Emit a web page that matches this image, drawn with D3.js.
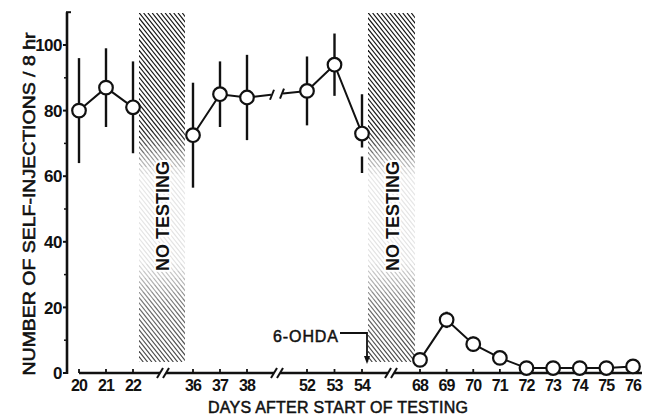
<!DOCTYPE html>
<html>
<head>
<meta charset="utf-8">
<script src="https://d3js.org/d3.v7.min.js"></script>
<style>
  body { margin: 0; background: #fff; }
  text { font-family: "Liberation Sans", Arial, sans-serif; fill: #111; }
</style>
</head>
<body>
<script>
// session days, mean self-injections / 8 hr, and error bar half-lengths
var days1 = [20, 21, 22],  means1 = [80, 87, 81],   errs1 = [16, 12, 14];
var days2 = [36, 37, 38],  means2 = [72.5, 85, 84], errs2 = [16, 10, 13];
var days3 = [52, 53, 54],  means3 = [86, 94, 73],   errs3 = [10.5, 9.5, 12];
var days4 = [68, 69, 70, 71, 72, 73, 74, 75, 76];
var means4 = [4, 16.2, 8.8, 4.6, 1.5, 1.5, 1.5, 1.5, 2];
var errs4 = [0, 2.5, 2.3, 0, 0, 0, 0, 0, 0];
var yTicks = [0, 20, 40, 60, 80, 100];
var yMinor = [10, 30, 50, 70, 90];

var width = 646, height = 417;

var svg = d3.select("body").append("svg")
    .attr("width", width)
    .attr("height", height);

// broken x axis: each block of days gets its own stretch
var x = d3.scaleLinear()
    .domain([20, 22, 36, 38, 52, 54, 68, 76])
    .range([79, 133, 193, 247, 307, 362, 420, 633]);
var y = d3.scaleLinear().domain([0, 100]).range([373, 45]);

var gap1 = (x(22) + x(36)) / 2,
    gap2 = (x(38) + x(52)) / 2,
    gap3 = (x(54) + x(68)) / 2;

// "no testing" periods: hatched bands that thin out towards the middle
var noTest = [[x(22) + 6, x(36) - 8], [x(54) + 6, x(68) - 5]];
var bandTop = Math.round(y(110) + 1), bandBot = Math.round(y(3.5));
var bandH = bandBot - bandTop;
// white veil over the hatching, strongest in the middle of the band
var veilAt = d3.scaleLinear()
    .domain([0, 0.34, 0.46, 0.72, 0.84, 1])
    .range([0, 0.05, 0.9, 0.88, 0.4, 0.2]);
var nVeil = 50;

noTest.forEach(function (d, i) {
  var slope = 1.25;
  svg.append("clipPath").attr("id", "clip" + i)
    .append("rect")
      .attr("x", d[0]).attr("y", bandTop)
      .attr("width", d[1] - d[0]).attr("height", bandH);
  var g = svg.append("g").attr("clip-path", "url(#clip" + i + ")");
  g.selectAll("line.h")
    .data(d3.range(d[0] - bandH / slope, d[1] + 2, 4.3))
    .enter().append("line")
      .attr("x1", function (s) { return s; })
      .attr("y1", bandTop)
      .attr("x2", function (s) { return s + bandH / slope; })
      .attr("y2", bandBot)
      .attr("stroke", "#111")
      .attr("stroke-width", 1.2);
  var veil = d3.range(nVeil).map(function (k) {
    var y0 = Math.round(bandTop + k * bandH / nVeil),
        y1 = Math.round(bandTop + (k + 1) * bandH / nVeil);
    return { y0: y0, y1: y1, o: veilAt((k + 0.5) / nVeil) };
  });
  g.selectAll("rect.v")
    .data(veil)
    .enter().append("rect")
      .attr("x", d[0] - 1)
      .attr("width", d[1] - d[0] + 2)
      .attr("y", function (v) { return v.y0; })
      .attr("height", function (v) { return v.y1 - v.y0; })
      .attr("fill", "#fff")
      .attr("fill-opacity", function (v) { return v.o; });
});

svg.selectAll("text.nt")
  .data(noTest)
  .enter().append("text")
    .attr("class", "nt")
    .attr("transform", function (d) { return "translate(" + ((d[0] + d[1]) / 2 + 7) + "," + 216 + ") rotate(-90)"; })
    .attr("text-anchor", "middle")
    .style("font-size", "18px")
    .style("font-weight", "bold")
    .style("paint-order", "stroke")
    .style("stroke", "#fff")
    .style("stroke-width", 4)
    .text("NO TESTING");

// y axis
svg.append("line")
    .attr("x1", 67).attr("x2", 67)
    .attr("y1", y(110)).attr("y2", y(0) + 1)
    .attr("stroke", "#111").attr("stroke-width", 2.6);
svg.append("line")
    .attr("x1", 66).attr("x2", 71)
    .attr("y1", y(110)).attr("y2", y(110))
    .attr("stroke", "#111").attr("stroke-width", 2);

svg.selectAll("line.ymaj")
  .data(yTicks).enter().append("line")
    .attr("x1", 63).attr("x2", 67)
    .attr("y1", function (d) { return y(d); })
    .attr("y2", function (d) { return y(d); })
    .attr("stroke", "#111").attr("stroke-width", 2);
svg.selectAll("line.ymin")
  .data(yMinor).enter().append("line")
    .attr("x1", 64).attr("x2", 67)
    .attr("y1", function (d) { return y(d); })
    .attr("y2", function (d) { return y(d); })
    .attr("stroke", "#111").attr("stroke-width", 1.5);
svg.selectAll("text.ylab")
  .data(yTicks).enter().append("text")
    .attr("x", 62)
    .attr("y", function (d) { return y(d); })
    .attr("dy", "0.36em")
    .attr("text-anchor", "end")
    .style("font-size", "17px")
    .style("font-weight", "bold")
    .style("letter-spacing", "-0.5px")
    .text(function (d) { return d; });

svg.append("text")
    .attr("transform", "translate(35,204) rotate(-90)")
    .attr("text-anchor", "middle")
    .attr("textLength", 343)
    .attr("lengthAdjust", "spacingAndGlyphs")
    .style("font-size", "17px")
    .style("stroke", "#111")
    .style("stroke-width", 0.6)
    .text("NUMBER OF SELF-INJECTIONS / 8 hr");

// x axis pieces with break marks
var axisY = y(0);
var axisPieces = [[x(20), gap1 - 3], [gap1 + 3, gap2 - 3], [gap2 + 3, gap3 - 3], [gap3 + 3, 642]];
svg.selectAll("line.xax")
  .data(axisPieces).enter().append("line")
    .attr("x1", function (d) { return d[0]; })
    .attr("x2", function (d) { return d[1]; })
    .attr("y1", axisY).attr("y2", axisY)
    .attr("stroke", "#111").attr("stroke-width", 2.6);

function breakMarks(cx, cy) {
  [-3, 3].forEach(function (o) {
    svg.append("line")
        .attr("x1", cx + o - 3).attr("y1", cy + 5)
        .attr("x2", cx + o + 3).attr("y2", cy - 5)
        .attr("stroke", "#111").attr("stroke-width", 2);
  });
}
[gap1, gap2, gap3].forEach(function (g) { breakMarks(g, axisY); });

var allDays = days1.concat(days2, days3, days4);
svg.selectAll("line.xt")
  .data(allDays).enter().append("line")
    .attr("x1", function (d) { return x(d); })
    .attr("x2", function (d) { return x(d); })
    .attr("y1", axisY).attr("y2", axisY - 4)
    .attr("stroke", "#111").attr("stroke-width", 1.8);
svg.selectAll("text.xlab")
  .data(allDays).enter().append("text")
    .attr("x", function (d) { return x(d); })
    .attr("y", 391)
    .attr("text-anchor", "middle")
    .style("font-size", "16px")
    .style("font-weight", "bold")
    .style("letter-spacing", "-0.8px")
    .text(function (d) { return d; });

svg.append("text")
    .attr("x", 338).attr("y", 413)
    .attr("text-anchor", "middle")
    .attr("textLength", 260)
    .attr("lengthAdjust", "spacing")
    .style("font-size", "16px")
    .style("stroke", "#111")
    .style("stroke-width", 0.5)
    .text("DAYS AFTER START OF TESTING");

// data blocks
var blocks = [
  { days: days1, means: means1, errs: errs1 },
  { days: days2, means: means2, errs: errs2 },
  { days: days3, means: means3, errs: errs3 },
  { days: days4, means: means4, errs: errs4 }
];
var pts = blocks.map(function (b) {
  return b.days.map(function (d, i) { return { day: d, m: b.means[i], e: b.errs[i] }; });
});
var flat = [].concat.apply([], pts);

var line = d3.line().x(function (d) { return x(d.day); }).y(function (d) { return y(d.m); });

svg.selectAll("path.series")
  .data(pts).enter().append("path")
    .attr("d", line)
    .attr("fill", "none")
    .attr("stroke", "#111")
    .attr("stroke-width", 2);

// connector 38 -> 52 interrupted by a break
var a = pts[1][2], b = pts[2][0];
var yAt = d3.scaleLinear().domain([x(a.day), x(b.day)]).range([y(a.m), y(b.m)]);
svg.append("line")
    .attr("x1", x(a.day)).attr("y1", y(a.m))
    .attr("x2", gap2 - 6).attr("y2", yAt(gap2 - 6))
    .attr("stroke", "#111").attr("stroke-width", 2);
svg.append("line")
    .attr("x1", gap2 + 6).attr("y1", yAt(gap2 + 6))
    .attr("x2", x(b.day)).attr("y2", y(b.m))
    .attr("stroke", "#111").attr("stroke-width", 2);
[-5, 5].forEach(function (o) {
  var cx = gap2 + o, cy = yAt(cx);
  svg.append("line")
      .attr("x1", cx - 2).attr("y1", cy + 5)
      .attr("x2", cx + 2).attr("y2", cy - 5)
      .attr("stroke", "#111").attr("stroke-width", 2);
});

// error bars
svg.selectAll("line.eb")
  .data(flat.filter(function (d) { return d.e > 0; })).enter().append("line")
    .attr("x1", function (d) { return x(d.day); })
    .attr("x2", function (d) { return x(d.day); })
    .attr("y1", function (d) { return y(d.m + d.e); })
    .attr("y2", function (d) { return y(d.m - d.e); })
    .attr("stroke", "#111")
    .attr("stroke-width", 2.4)
    .attr("stroke-dasharray", function (d) {
      // the lower whisker of day 54 is broken in the original
      if (d.day === 54) {
        var up = y(d.m) - y(d.m + d.e);
        return (up + 14) + ",9,40";
      }
      return null;
    });

svg.selectAll("circle.pt")
  .data(flat).enter().append("circle")
    .attr("cx", function (d) { return x(d.day); })
    .attr("cy", function (d) { return y(d.m); })
    .attr("r", 6.8)
    .attr("fill", "#fff")
    .attr("stroke", "#111")
    .attr("stroke-width", 2.2);

// 6-OHDA marker
var ax = x(54) + 5;
svg.append("text")
    .attr("x", 273).attr("y", 342)
    .attr("textLength", 65)
    .attr("lengthAdjust", "spacing")
    .style("font-size", "16px")
    .style("stroke", "#111")
    .style("stroke-width", 0.5)
    .text("6-OHDA");
svg.append("path")
    .attr("d", "M340,333 H" + ax + " V" + (axisY - 14))
    .attr("fill", "none").attr("stroke", "#111").attr("stroke-width", 1.8);
svg.append("path")
    .attr("d", "M" + (ax - 3) + "," + (axisY - 17) + " L" + (ax + 3) + "," + (axisY - 17) + " L" + ax + "," + (axisY - 9) + " Z")
    .attr("fill", "#111");
</script>
</body>
</html>
